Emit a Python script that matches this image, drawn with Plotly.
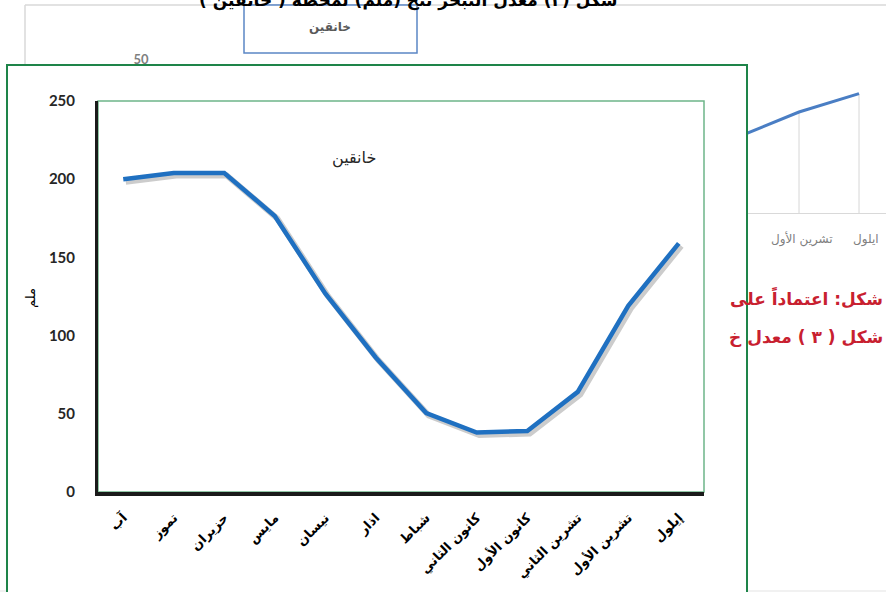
import plotly.graph_objects as go

# ---------------- data ----------------
months = ["آب", "تموز", "حزيران", "مايس", "نيسان", "اذار", "شباط",
          "كانون الثاني", "كانون الأول", "تشرين الثاني", "تشرين الأول", "إيلول"]
evap = [200, 204, 204, 176.5, 127, 86, 50.5, 38, 39, 64, 119, 159]
y_ticks = [0, 50, 100, 150, 200, 250]
station = "خانقين"
y_title = "ملم"

# background (partially hidden) chart on the right
bg_x = [0, 1, 2]
bg_values = [50, 66, 78]
bg_labels = ["تشرين الأول", "ايلول"]
bg_tick = "50"
top_title = "شكل (٢) معدل التبخر نتح (ملم) لمحطة ( خانقين )"
red_line1 = "شكل: اعتماداً على"
red_line2 = "شكل ( ٣ ) معدل خ"

W, H = 886, 592
def px(x): return x / W
def py(y): return 1 - y / H

AR = "DejaVu Sans, Arial, sans-serif"

fig = go.Figure()

# shadow of the main line (offset subplot xy)
fig.add_trace(go.Scatter(x=months, y=evap, mode="lines", xaxis="x", yaxis="y",
                         line=dict(color="rgba(0,0,0,0.20)", width=6),
                         hoverinfo="skip", showlegend=False))
# main line (subplot x2y2)
fig.add_trace(go.Scatter(x=months, y=evap, mode="lines", xaxis="x2", yaxis="y2",
                         line=dict(color="#1f70c1", width=4.5),
                         showlegend=False))
# background chart fragment (subplot x3y3)
fig.add_trace(go.Scatter(x=bg_x, y=bg_values, mode="lines", xaxis="x3", yaxis="y3",
                         line=dict(color="#4a7ec4", width=3),
                         error_y=dict(type="data", symmetric=False,
                                      array=[0] * len(bg_values), arrayminus=bg_values,
                                      color="#d6d6d6", thickness=1, width=0),
                         hoverinfo="skip", showlegend=False))
# partially hidden tick label of the background chart (clipped subplot x4y4)
fig.add_trace(go.Scatter(x=[0.5], y=[0.15], mode="text", text=[bg_tick],
                         xaxis="x4", yaxis="y4", cliponaxis=True,
                         textfont=dict(family="Lato, sans-serif", size=13, color="#7f7f7f",
                                       weight="bold"),
                         hoverinfo="skip", showlegend=False))

main_x = [px(98), px(704)]
main_y = [py(492), py(101)]
sh = 2.5

layout = dict(
    width=W, height=H, autosize=False,
    margin=dict(l=0, r=0, t=0, b=0, pad=0, autoexpand=False),
    paper_bgcolor="white", plot_bgcolor="rgba(0,0,0,0)",
    showlegend=False,
    xaxis=dict(domain=[px(98 + sh), px(704 + sh)], range=[-0.5, 11.5], visible=False,
               type="category", categoryorder="array", categoryarray=months,
               automargin=False),
    yaxis=dict(domain=[py(492 + sh), py(101 + sh)], range=[0, 250], visible=False,
               anchor="x", automargin=False),
    xaxis2=dict(domain=main_x, range=[-0.5, 11.5], anchor="y2", type="category",
                categoryorder="array", categoryarray=months,
                showline=True, linecolor="#1a1a1a", linewidth=4,
                showgrid=False, zeroline=False, automargin=False,
                ticks="outside", ticklen=9, tickcolor="rgba(0,0,0,0)",
                tickangle=-45,
                tickfont=dict(family=AR, size=13, color="#000000", weight="bold")),
    yaxis2=dict(domain=main_y, range=[0, 250], anchor="x2",
                tickvals=y_ticks, automargin=False,
                showline=True, linecolor="#1a1a1a", linewidth=3,
                showgrid=False, zeroline=False,
                ticks="outside", ticklen=17, tickcolor="rgba(0,0,0,0)",
                tickfont=dict(family="Lato, Open Sans, sans-serif", size=15,
                              color="#262626", weight="bold")),
    xaxis3=dict(domain=[px(748), 1], range=[0.15, 2.45], anchor="y3",
                showline=True, linecolor="#d9d9d9", linewidth=1, automargin=False,
                showgrid=False, zeroline=False, showticklabels=False, ticks=""),
    yaxis3=dict(domain=[py(213), py(60)], range=[0, 100], anchor="x3",
                visible=False, automargin=False),
    xaxis4=dict(domain=[px(120), px(162)], range=[0, 1], anchor="y4",
                visible=False, automargin=False),
    yaxis4=dict(domain=[py(64), py(44)], range=[0, 1], anchor="x4",
                visible=False, automargin=False),
)

shapes = [
    # background frame of the page chart
    dict(type="line", xref="paper", yref="paper", x0=px(25), x1=1, y0=py(5), y1=py(5),
         line=dict(color="#d9d9d9", width=1.5), layer="below"),
    dict(type="line", xref="paper", yref="paper", x0=px(25), x1=px(25), y0=py(5), y1=py(66),
         line=dict(color="#d9d9d9", width=1.5), layer="below"),
    dict(type="line", xref="paper", yref="paper", x0=0, x1=1, y0=py(591), y1=py(591),
         line=dict(color="#e3e3e3", width=1), layer="below"),
    # blue title box of background chart
    dict(type="rect", xref="paper", yref="paper", x0=px(244), x1=px(417), y0=py(53), y1=py(5),
         line=dict(color="#5b87c5", width=1.5), fillcolor="white", layer="below"),
    # green outer frame of the main chart
    dict(type="rect", xref="paper", yref="paper", x0=px(7), x1=px(747), y0=py(600), y1=py(65),
         line=dict(color="#1e8449", width=2), fillcolor="white", layer="below"),
    # thin green plot-area border
    dict(type="rect", xref="paper", yref="paper", x0=px(98), x1=px(704), y0=py(492), y1=py(101),
         line=dict(color="#6db589", width=1.5), layer="below"),
]
layout["shapes"] = shapes

annotations = [
    dict(text=top_title, xref="paper", yref="paper", x=px(408), y=py(0),
         xanchor="center", yanchor="middle", showarrow=False,
         font=dict(family=AR, size=17, color="#000000", weight="bold")),
    dict(text=station, xref="paper", yref="paper", x=px(330), y=py(27),
         xanchor="center", yanchor="middle", showarrow=False,
         font=dict(family=AR, size=12, color="#595959", weight="bold")),
    dict(text=station, xref="paper", yref="paper", x=px(354), y=py(158),
         xanchor="center", yanchor="middle", showarrow=False,
         font=dict(family=AR, size=16, color="#262626")),
    dict(text=y_title, xref="paper", yref="paper", x=px(31), y=py(298),
         xanchor="center", yanchor="middle", showarrow=False, textangle=-90,
         font=dict(family=AR, size=13, color="#000000")),
    dict(text=bg_labels[0], xref="paper", yref="paper", x=px(802), y=py(239),
         xanchor="center", yanchor="middle", showarrow=False,
         font=dict(family=AR, size=12, color="#808080")),
    dict(text=bg_labels[1], xref="paper", yref="paper", x=px(866), y=py(239),
         xanchor="center", yanchor="middle", showarrow=False,
         font=dict(family=AR, size=12, color="#808080")),
    dict(text=red_line1, xref="paper", yref="paper", x=px(885), y=py(297),
         xanchor="right", yanchor="middle", showarrow=False,
         font=dict(family=AR, size=17, color="#c8202f", weight="bold")),
    dict(text=red_line2, xref="paper", yref="paper", x=px(885), y=py(337),
         xanchor="right", yanchor="middle", showarrow=False,
         font=dict(family=AR, size=17, color="#c8202f", weight="bold")),
]
layout["annotations"] = annotations

fig.update_layout(**layout)
fig.write_html("out.html")
